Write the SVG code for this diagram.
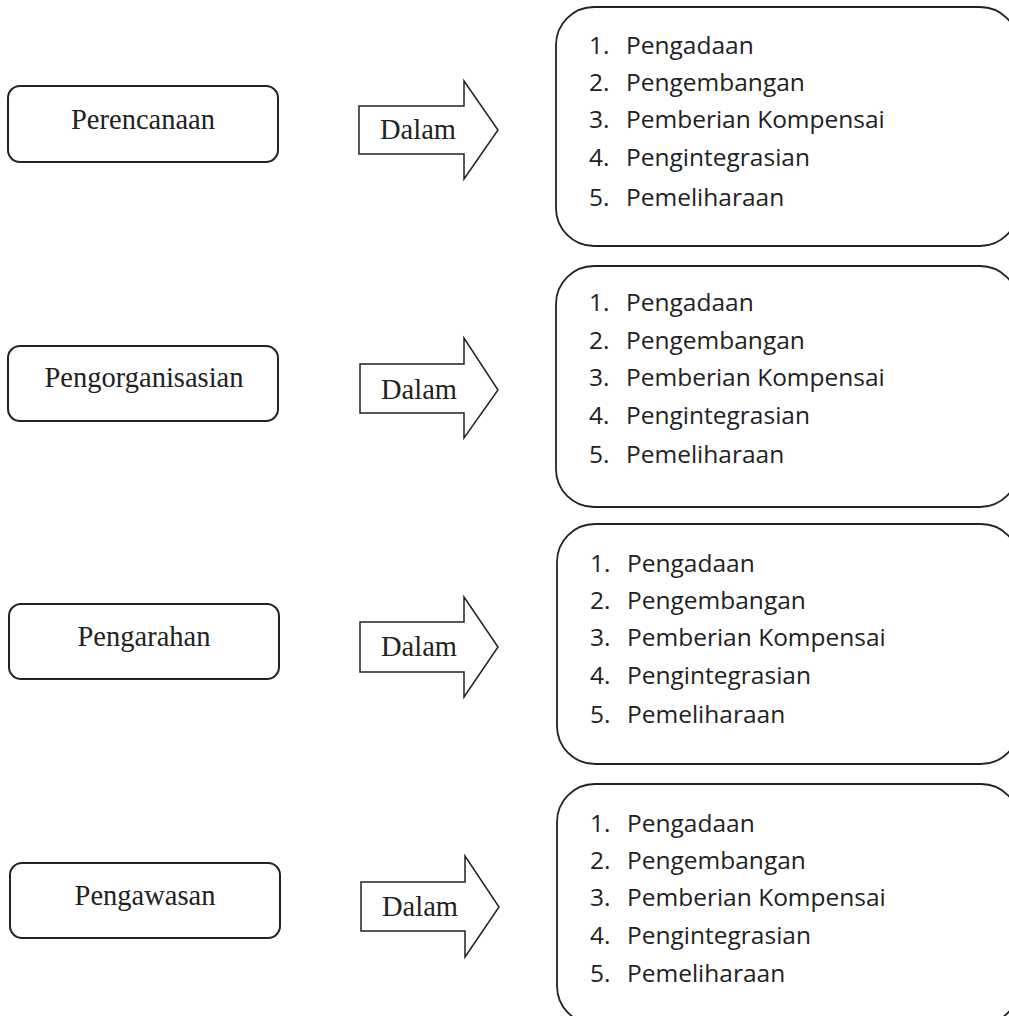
<svg xmlns="http://www.w3.org/2000/svg" width="1009" height="1016" viewBox="0 0 1009 1016">
<style>
.lbox{fill:#fff;stroke:#222;stroke-width:2}
.rbox{fill:#fff;stroke:#222;stroke-width:1.8}
.arr{fill:#fff;stroke:#222;stroke-width:1.5;stroke-linejoin:miter}
.serif{font-family:"Liberation Serif","Times New Roman",serif;font-size:28.5px;fill:#222}
.list{font-family:"Open Sans","Noto Sans",sans-serif;font-size:24.5px;fill:#222}
</style>
<rect width="1009" height="1016" fill="#fff"/>
<g id="connectors">
<g id="arrow1"><polygon class="arr" points="359,106 464,106 464,81 498,130 464,179 464,154 359,154"/><text class="serif" x="380" y="139">Dalam</text></g>
<g id="arrow2"><polygon class="arr" points="360,364 464,364 464,338 498,390 464,438 464,413 360,413"/><text class="serif" x="381" y="399">Dalam</text></g>
<g id="arrow3"><polygon class="arr" points="360,622 464,622 464,597 498,647 464,697 464,672 360,672"/><text class="serif" x="381" y="656">Dalam</text></g>
<g id="arrow4"><polygon class="arr" points="361,882 465,882 465,856 499,907 465,957 465,931 361,931"/><text class="serif" x="382" y="916">Dalam</text></g>
</g>
<g id="perencanaan"><rect class="lbox" x="8" y="86" width="270" height="76" rx="12"/><text class="serif" x="143" y="129" text-anchor="middle">Perencanaan</text></g>
<g id="pengorganisasian"><rect class="lbox" x="8" y="346" width="270" height="75" rx="12"/><text class="serif" x="144" y="387" text-anchor="middle">Pengorganisasian</text></g>
<g id="pengarahan"><rect class="lbox" x="9" y="604" width="270" height="75" rx="12"/><text class="serif" x="144" y="646" text-anchor="middle">Pengarahan</text></g>
<g id="pengawasan"><rect class="lbox" x="10" y="863" width="270" height="75" rx="12"/><text class="serif" x="145" y="905" text-anchor="middle">Pengawasan</text></g>
<g id="list1"><rect class="rbox" x="556" y="7" width="462" height="239" rx="38"/>
<text class="list"><tspan x="589" y="54">1.</tspan><tspan x="626" y="54">Pengadaan</tspan><tspan x="589" y="91">2.</tspan><tspan x="626" y="91">Pengembangan</tspan><tspan x="589" y="128">3.</tspan><tspan x="626" y="128">Pemberian Kompensai</tspan><tspan x="589" y="166">4.</tspan><tspan x="626" y="166">Pengintegrasian</tspan><tspan x="589" y="206">5.</tspan><tspan x="626" y="206">Pemeliharaan</tspan></text></g>
<g id="list2"><rect class="rbox" x="556" y="266" width="462" height="241" rx="38"/>
<text class="list"><tspan x="589" y="311">1.</tspan><tspan x="626" y="311">Pengadaan</tspan><tspan x="589" y="349">2.</tspan><tspan x="626" y="349">Pengembangan</tspan><tspan x="589" y="386">3.</tspan><tspan x="626" y="386">Pemberian Kompensai</tspan><tspan x="589" y="424">4.</tspan><tspan x="626" y="424">Pengintegrasian</tspan><tspan x="589" y="463">5.</tspan><tspan x="626" y="463">Pemeliharaan</tspan></text></g>
<g id="list3"><rect class="rbox" x="557" y="524" width="462" height="240" rx="38"/>
<text class="list"><tspan x="590" y="572">1.</tspan><tspan x="627" y="572">Pengadaan</tspan><tspan x="590" y="609">2.</tspan><tspan x="627" y="609">Pengembangan</tspan><tspan x="590" y="646">3.</tspan><tspan x="627" y="646">Pemberian Kompensai</tspan><tspan x="590" y="684">4.</tspan><tspan x="627" y="684">Pengintegrasian</tspan><tspan x="590" y="723">5.</tspan><tspan x="627" y="723">Pemeliharaan</tspan></text></g>
<g id="list4"><rect class="rbox" x="557" y="784" width="462" height="240" rx="38"/>
<text class="list"><tspan x="590" y="832">1.</tspan><tspan x="627" y="832">Pengadaan</tspan><tspan x="590" y="869">2.</tspan><tspan x="627" y="869">Pengembangan</tspan><tspan x="590" y="906">3.</tspan><tspan x="627" y="906">Pemberian Kompensai</tspan><tspan x="590" y="944">4.</tspan><tspan x="627" y="944">Pengintegrasian</tspan><tspan x="590" y="982">5.</tspan><tspan x="627" y="982">Pemeliharaan</tspan></text></g>
</svg>
